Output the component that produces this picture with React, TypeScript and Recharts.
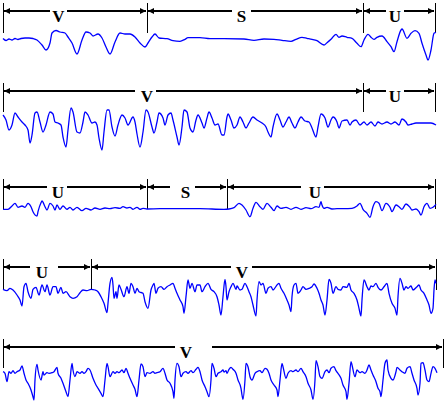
import { LineChart, Line, XAxis, YAxis, ReferenceLine } from 'recharts';

// [time, amplitude] pairs
const trace1: [number, number][] = [
  [3, 1.5], [6, -0.5], [9, 1], [12, 0], [15, 1.5], [18, 0.5], [21, 1.5], [25, 2], [29, 2], [33, 1.5],
  [37, 0], [42, -5], [46, -10], [50, -3], [52, 7], [56, 9.5], [60, 8], [65, 7], [68, 3], [72, -3],
  [77, -14], [82, 0], [86, 8], [90, 7], [93, 4], [98, 6], [102, 2], [106, -7], [110, -14], [115, -2],
  [120, 7], [125, 6], [130, 6], [135, 3], [140, -3], [145, -7], [148, -3], [152, 3], [155, 6], [159, 2],
  [167, 1.3], [173, -0.7], [180, -1.3], [185, 0.7], [188, 2.3], [200, 2.3], [210, 1.3], [224, 1.3],
  [244, 1], [254, -0.3], [264, 1], [274, 0.7], [282, -0.3], [291, -1.3], [296, 0.7], [302, 2.7],
  [307, 1.7], [312, 0.7], [317, -0.7], [324, -5], [327, -2.7], [331, 0.7], [336, 5.7], [339, 2.7],
  [342, 4], [347, 2.7], [352, 1.7], [357, -3.3], [361, -6.7], [364, 0], [368, 5.7], [371, 2.7],
  [374, 0.7], [377, 2.7], [382, 4], [387, -1.7], [391, -6.7], [394, -11.7], [397, -1.7], [401, 10],
  [402, 11], [407, 1.7], [411, 6.7], [415, 9.3], [419, 6.7], [422, -3.3], [426, -15], [428, -20],
  [431, -10], [434, 6.7], [436, 7.7],
];

const trace2: [number, number][] = [
  [3, 7], [6, 2], [9, -8], [12, -3], [15, 9], [18, 5], [22, 0], [25, -3], [28, -8], [30, -21],
  [32, -13], [35, 9], [37, 10], [40, 0], [43, -10], [46, -3], [50, 10], [53, 8], [55, 0], [58, -1],
  [61, -3], [63, -15], [66, -25], [68, -8], [71, 14], [73, 10], [77, -10], [80, -11], [83, 0], [85, 10],
  [88, 7], [92, -1], [95, 0], [97, -3], [99, -16], [102, -28], [104, -10], [107, 12], [109, 12], [112, -5],
  [115, -14], [118, -3], [122, 7], [125, 4], [128, -3], [133, 5], [135, 0], [137, -12], [140, -25], [143, -10],
  [146, 12], [148, 10], [152, -5], [154, -11], [157, 0], [159, 9], [163, 4], [165, -3], [168, 7], [171, 9],
  [173, 2], [177, -15], [179, -23], [182, -5], [184, 12], [187, 10], [190, -6], [193, -10], [196, 2], [198, 7],
  [202, -1], [204, -6], [207, 4], [209, 10], [212, 4], [215, -3], [218, -2], [222, -13], [224, -13], [227, 5],
  [228, 8], [231, 2], [234, -6], [237, -3], [240, 5], [243, 0], [246, -6], [249, -1], [253, 5], [257, 2],
  [262, -1], [266, -5], [268, -10], [271, -15], [273, -5], [277, 8], [280, 2], [283, -5], [286, 0], [289, 5],
  [292, -1], [295, -6], [298, 0], [301, 5], [305, 1], [309, 0], [312, -6], [316, -15], [318, -5], [321, 8],
  [325, 4], [328, -5], [331, 2], [333, 5], [337, 0], [339, -6], [342, 1], [347, 2], [350, -3], [352, 0],
  [356, 2], [360, -3], [364, 0], [367, -3], [371, 0], [375, -4], [378, 0], [382, -2], [387, 0], [391, -2],
  [395, 0], [399, -3], [402, 3], [406, 0], [408, -3], [412, -2], [416, -1], [421, -1], [426, -1], [431, -1],
  [436, -3],
];

const trace3: [number, number][] = [
  [3, -0.3], [8, -0.3], [12, 3], [15, 5.7], [18, 1.7], [22, 3], [25, 1.7], [28, 5.7], [31, 2.3], [33, -2.7],
  [37, -7], [38, -2.7], [41, 6.3], [42, 8], [45, 2.3], [47, -1], [50, 5.7], [53, 3], [55, -1], [57, 4],
  [60, -0.3], [63, 3], [67, -0.3], [70, 1.7], [73, -1], [77, 1.7], [82, -1.7], [86, 0.7], [91, -1], [95, 1],
  [100, -0.3], [105, 1], [110, 0.3], [115, 1.3], [120, 0.7], [123, 2.3], [127, 1], [130, 1.7], [133, -0.3], [137, 1.7],
  [140, -0.3], [143, 0.7], [147, 0], [160, 0.3], [180, 0.3], [200, 0.3], [224, -0.3], [229, 0], [234, 1.3], [239, 5.7],
  [242, 4], [246, -1], [250, -7.7], [253, 0.7], [256, 6.7], [260, 2.3], [263, -0.3], [267, 5.7], [271, 1.7], [274, -1.7],
  [277, 3], [281, 0.7], [286, 1.7], [291, -0.3], [296, 1.7], [301, -0.3], [306, 1.3], [311, 0.3], [316, 2.3], [319, 1.7],
  [321, 7.3], [322, 4], [324, 0.7], [327, 1.7], [332, 0], [337, 0.3], [344, 0.3], [352, 0.7], [357, 3], [360, 5.7],
  [363, -0.3], [367, -4.3], [370, -8.3], [373, 2.3], [376, 7.3], [379, 5.7], [382, -1.7], [386, 5.7], [390, 1.7], [392, -2.7],
  [396, 4], [399, 2.3], [402, -0.3], [406, 5], [410, 1.7], [412, -1], [416, 0], [419, -2.7], [421, -6], [424, 2.3],
  [427, 5.7], [430, 0.7], [433, 1.7], [436, 4.7],
];

const trace4: [number, number][] = [
  [3, 0.7], [7, -0.7], [10, 1.7], [13, 0], [17, -5], [20, -10], [22, -16], [24, 3.3], [26, 6.7], [28, -1.7],
  [31, -8.3], [33, 0.7], [36, 2.7], [39, -5], [42, 5], [45, -1.7], [47, 5], [50, -5], [53, 3.3], [56, 3.3],
  [58, -3.3], [61, 2.7], [63, -3.3], [66, -1.7], [70, -6.7], [73, -8.3], [77, -6.7], [80, -2.7], [83, 0], [87, -0.7],
  [91, 0.7], [95, 0], [98, -1.7], [101, -6.7], [104, -13.3], [107, -22.7], [108, -13.3], [110, 6.7], [112, 12.7], [113, 5],
  [114, -8.3], [116, -1.7], [117, -8.3], [119, 5], [121, 0.7], [124, -6.7], [127, 3.3], [129, -3.3], [131, 6.7], [133, 3.3],
  [135, -3.3], [137, 1.7], [139, -1.7], [143, -3.3], [145, -11.7], [148, -18.3], [151, 0], [153, 5], [154, 6.7], [156, -3.3],
  [158, 1.7], [161, 3.3], [164, 0.7], [167, 3.3], [170, 5], [173, 6.7], [175, 1.7], [177, -3.3], [180, -10], [183, -16.7],
  [184, -23.3], [186, -6.7], [188, 10], [190, 1.7], [192, 6.7], [195, -1.7], [197, 5], [200, 5], [202, -1.7], [205, 3.3],
  [208, 6.7], [211, 0.7], [214, -1.7], [217, -6.7], [219, -15], [221, -25], [223, -6.7], [225, 10.7], [226, 3.3], [227, -10],
  [229, -1.7], [231, 3.3], [233, 6.7], [236, 0.7], [237, 4], [240, 0], [242, 0.7], [245, 6.7], [247, 3.3], [249, -1.7],
  [251, -6.7], [253, -15], [256, -26], [257, -10], [259, 8.3], [261, 5], [263, 6.7], [266, -3.3], [268, 1.7], [271, 3.3],
  [273, 0], [277, 5], [279, 6.7], [281, 1.7], [284, -3.3], [287, -10], [289, -15], [291, -21.7], [292, -6.7], [294, 5],
  [296, 6.7], [298, -3.3], [301, 0], [303, 3.3], [306, 0.7], [309, 1.7], [312, 3.3], [314, 6], [317, 1.7], [319, -3.3],
  [321, -10], [323, -15], [325, -25], [327, -10], [329, 10.7], [331, 6.7], [333, -3.3], [336, 3.3], [338, 0.7], [341, 0],
  [343, 3.3], [347, 2.7], [349, 6.7], [351, 0], [354, -3.3], [357, -10], [359, -18.3], [361, -26], [362, -10], [364, 10],
  [367, 3.3], [369, 0], [371, 4], [373, 3.3], [376, 6.7], [378, 2.7], [381, 0], [384, 3.3], [387, 6.7], [389, -3.3],
  [392, -13.3], [395, -18.3], [397, -25], [398, -6.7], [400, 11.7], [402, 6.7], [404, 0], [406, 3.3], [408, 1.7], [411, 4],
  [413, 0], [417, 3.3], [419, 5], [421, 0], [424, -3.3], [427, -10], [429, -15], [431, -23.3], [433, -18.3], [434, 0],
  [435, 10], [436, 6.7],
];

const trace5: [number, number][] = [
  [3, 0.3], [5, -1.3], [7, -9.7], [9, 0.3], [11, -1.3], [13, 1.3], [15, -1.3], [17, 0.3], [20, 2], [22, 6],
  [24, -1.3], [26, -8], [28, -11.3], [31, -18], [33, -24.7], [34, -28], [35, -8], [37, 7.7], [38, 2], [41, -8],
  [43, 0.3], [44, -3], [47, -0.7], [49, -1.3], [52, -0.7], [54, 0.3], [57, 4.7], [58, -1.3], [61, -6.3], [63, -11.3],
  [66, -19.7], [68, -24.7], [70, -8], [72, 8.7], [73, 2], [75, -4.7], [77, 0.3], [80, -1.3], [82, 0.3], [84, -1.3],
  [86, 0.3], [88, 3.7], [90, 2], [93, -6.3], [96, -13], [98, -16.3], [101, -21.3], [103, -24.7], [105, -8], [107, 8.7],
  [108, 5.3], [110, -4.7], [113, 0.3], [115, -1.3], [117, 0.3], [119, -0.7], [122, 2], [124, -0.7], [126, 3.7], [128, -1.3],
  [130, -6.3], [133, -13], [135, -17.3], [137, -24.7], [139, -8], [141, 8], [143, 5.3], [145, -4.7], [147, -0.7], [150, -1.3],
  [153, 0.3], [155, -1.3], [157, -0.7], [160, 0.3], [163, 3.7], [165, -1.3], [167, -8], [170, -11.3], [173, -19.7], [174, -26.3],
  [175, -8], [177, 8.7], [179, 5.3], [181, -4.7], [183, -1.3], [186, 0.3], [188, -1.3], [191, 1.3], [193, -0.7], [196, 2.7],
  [198, 4.7], [200, 0.3], [202, -8], [205, -14.7], [207, -19.7], [209, -24.7], [211, -8], [212, 8.7], [214, 3.7], [216, -4.7],
  [218, -1.3], [221, 0.3], [223, 2], [224, 0], [226, 1.3], [227, -1.3], [229, 2.7], [231, 4.7], [233, 2.7], [236, -1.3],
  [238, -8], [241, -16.3], [242, -23], [243, -27.3], [245, -8], [246, 8.7], [248, 5.3], [250, -4.7], [252, -8], [255, -1.3],
  [257, 0.3], [260, 1.3], [262, -0.7], [265, 3.7], [267, 2.7], [269, -1.3], [271, -8], [274, -13], [277, -18], [278, -24.7],
  [280, -8], [282, 8.7], [283, 5.3], [286, -6.3], [288, -1.3], [291, 1.3], [293, 0.3], [296, 2], [298, 0.3], [301, 3.7],
  [303, 0.3], [306, -4.7], [308, -11.3], [311, -18], [313, -27.3], [315, -8], [316, 11.3], [318, 5.3], [320, -4.7], [322, -6.3],
  [325, 0.3], [327, 2], [329, -0.7], [331, 3.7], [334, 5.3], [336, 1.3], [338, -1.3], [341, -6.3], [343, -13], [346, -19.7],
  [347, -27.3], [349, -11.3], [351, 10.3], [352, 7], [355, -4.7], [357, 2], [360, -0.7], [362, 0.3], [365, -1.3], [367, 2],
  [369, 7], [371, 2], [373, -3], [376, -9.7], [378, -16.3], [380, -19.7], [381, -24.7], [383, -8], [385, 8.7], [387, 12],
  [388, 2], [391, -6.3], [393, -8], [396, 0.3], [397, 4.7], [400, 2], [402, 0.3], [405, -1.3], [407, 3.7], [410, 5.3],
  [412, -1.3], [414, -8], [417, -16.3], [418, -23], [420, -11.3], [421, 8.7], [423, 9.3], [425, 2], [427, -8], [429, -9.7],
  [431, -1.3], [433, 5.3], [435, 3.7], [437, -0.7],
];

// segment boundaries (same time units as the traces)
const bounds1 = [3, 147, 363, 435];
const bounds2 = [3, 363, 435];
const bounds3 = [3, 147, 227, 435];
const bounds4 = [3, 91, 436];
const bounds5 = [3, 443];

type Span = { label: string; from: number; to: number; mark: number; gap: [number, number] };

const spans1: Span[] = [
  { label: 'V', from: 3, to: 147, mark: 58.5, gap: [50, 67] },
  { label: 'S', from: 147, to: 363, mark: 241.5, gap: [232, 251] },
  { label: 'U', from: 363, to: 435, mark: 395, gap: [386, 404] },
];
const spans2: Span[] = [
  { label: 'V', from: 3, to: 363, mark: 147, gap: [135, 156] },
  { label: 'U', from: 363, to: 435, mark: 395, gap: [386, 404] },
];
const spans3: Span[] = [
  { label: 'U', from: 3, to: 147, mark: 58, gap: [47, 67] },
  { label: 'S', from: 147, to: 227, mark: 185.5, gap: [170, 195] },
  { label: 'U', from: 227, to: 435, mark: 315, gap: [301, 324] },
];
const spans4: Span[] = [
  { label: 'U', from: 3, to: 91, mark: 42, gap: [30, 58] },
  { label: 'V', from: 91, to: 436, mark: 242, gap: [231, 252] },
];
const spans5: Span[] = [
  { label: 'V', from: 3, to: 443, mark: 186, gap: [175, 212] },
];

const WIDTH = 448;

const ArrowShape = (props: any) => {
  const { x1, x2, y1, span } = props as { x1: number; x2: number; y1: number; span: Span };
  if (x1 == null || x2 == null) return <g />;
  const k = (x2 - x1) / (span.to - span.from);
  const px = (t: number) => x1 + (t - span.from) * k;
  const y = Math.round(y1);
  const a = x1 + 1;
  const b = x2 - 1;
  return (
    <g>
      <line x1={a} x2={px(span.gap[0])} y1={y} y2={y} stroke="#000" strokeWidth={2} shapeRendering="crispEdges" />
      <line x1={px(span.gap[1])} x2={b} y1={y} y2={y} stroke="#000" strokeWidth={2} shapeRendering="crispEdges" />
      <polygon points={`${a},${y} ${a + 6},${y - 3} ${a + 6},${y + 3}`} fill="#000" />
      <polygon points={`${b},${y} ${b - 6},${y - 3} ${b - 6},${y + 3}`} fill="#000" />
      <text
        x={px(span.mark)}
        y={y + 11}
        textAnchor="middle"
        fontFamily="'Liberation Serif', 'Times New Roman', serif"
        fontWeight="bold"
        fontSize={17}
        fill="#000"
      >
        {span.label}
      </text>
    </g>
  );
};

const TickShape = (props: any) => {
  const { x1, x2, y1, y2 } = props;
  if (x1 == null) return <g />;
  return <line x1={x1} x2={x2} y1={y1} y2={y2} stroke="#000" strokeWidth={1} shapeRendering="crispEdges" />;
};

type RowProps = {
  trace: [number, number][];
  bounds: number[];
  spans: Span[];
  top: number;
  height: number;
  base: number;
  arrowY: number;
  tickTop: number;
  tickBottom: number;
};

function Row({ trace, bounds, spans, top, height, base, arrowY, tickTop, tickBottom }: RowProps) {
  const data = trace.map(([t, v]) => ({ t, v }));
  const hi = base - top;
  const lo = hi - height;
  return (
    <div style={{ position: 'absolute', left: 0, top, width: WIDTH, height }}>
      <LineChart width={WIDTH} height={height} data={data} margin={{ top: 0, right: 0, bottom: 0, left: 0 }}>
        <XAxis type="number" dataKey="t" domain={[0, WIDTH]} hide allowDataOverflow />
        <YAxis type="number" domain={[lo, hi]} hide allowDataOverflow />
        {bounds.map((b) => (
          <ReferenceLine
            key={`b${b}`}
            segment={[{ x: b, y: base - tickTop }, { x: b, y: base - tickBottom }]}
            ifOverflow="visible"
            shape={(p: any) => <TickShape {...p} />}
          />
        ))}
        {spans.map((s) => (
          <ReferenceLine
            key={`s${s.from}`}
            segment={[{ x: s.from, y: base - arrowY }, { x: s.to, y: base - arrowY }]}
            ifOverflow="visible"
            shape={(p: any) => <ArrowShape {...p} span={s} />}
          />
        ))}
        <Line
          type="monotone"
          dataKey="v"
          stroke="#0000ff"
          strokeWidth={1.3}
          dot={false}
          activeDot={false}
          isAnimationActive={false}
        />
      </LineChart>
    </div>
  );
}

export default function App() {
  return (
    <div style={{ position: 'absolute', left: 0, top: 0, width: WIDTH, height: 404, background: '#fff', overflow: 'hidden' }}>
      <Row trace={trace1} bounds={bounds1} spans={spans1} top={0} height={80} base={40} arrowY={11} tickTop={3} tickBottom={33} />
      <Row trace={trace2} bounds={bounds2} spans={spans2} top={80} height={80} base={122} arrowY={91} tickTop={83} tickBottom={112} />
      <Row trace={trace3} bounds={bounds3} spans={spans3} top={170} height={70} base={209} arrowY={187} tickTop={179} tickBottom={209} />
      <Row trace={trace4} bounds={bounds4} spans={spans4} top={250} height={75} base={290} arrowY={267} tickTop={259} tickBottom={290} />
      <Row trace={trace5} bounds={bounds5} spans={spans5} top={330} height={74} base={372} arrowY={347} tickTop={339} tickBottom={368} />
    </div>
  );
}
